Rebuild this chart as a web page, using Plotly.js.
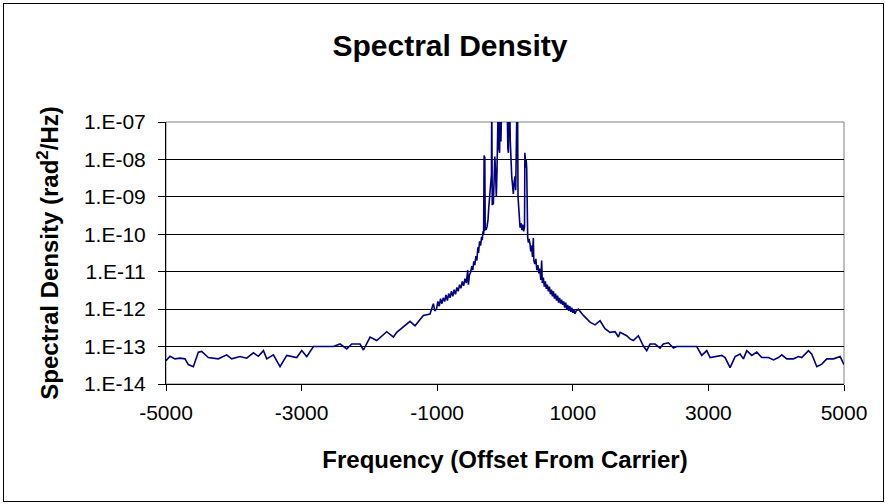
<!DOCTYPE html>
<html>
<head>
<meta charset="utf-8">
<script src="https://cdn.plot.ly/plotly-3.0.1.min.js"></script>
<style>
  html, body { margin: 0; padding: 0; background: #fff; }
  #wrap { position: relative; width: 885px; height: 504px; }
  #chart { position: absolute; left: 0; top: 0; width: 885px; height: 504px; }
  #frame { position: absolute; left: 3px; top: 3px; width: 879px; height: 497px;
           border: 1px solid #000; pointer-events: none; }
</style>
</head>
<body>
<div id="wrap"><div id="chart"></div><div id="frame"></div></div>
<script>
// Frequency offsets from carrier (Hz)
const freq = [
  -5000, -4941, -4867, -4794, -4720, -4671, -4597, -4523, -4474, -4376,
  -4228, -4105, -4031, -3908, -3810, -3711, -3637, -3563, -3514, -3416,
  -3318, -3219, -3072, -2998, -2924, -2826, -2531, -2433, -2334, -2260,
  -2138, -2088, -1990, -1892, -1744, -1646, -1597, -1401, -1327, -1205,
  -1106, -1080, -1057, -1035, -1010, -990, -970, -950, -930, -910,
  -890, -870, -850, -830, -810, -790, -770, -750, -730, -710,
  -690, -670, -650, -630, -610, -590, -570, -550, -540, -525,
  -505, -490, -475, -460, -445, -430, -415, -400, -390, -375,
  -360, -345, -335, -325, -315, -308, -303, -298, -292, -280,
  -265, -250, -240, -232, -222, -210, -200, -195, -188, -180,
  -172, -160, -150, -140, -128, -118, -105, -98, -90, -80,
  -70, -60, -48, -35, -20, -8, 5, 18, 30, 42,
  50, 58, 68, 78, 90, 100, 112, 123, 135, 147,
  158, 168, 178, 185, 192, 200, 212, 222, 235, 250,
  262, 275, 288, 293, 300, 306, 312, 320, 326, 335,
  345, 355, 369, 380, 392, 405, 418, 425, 440, 455,
  470, 485, 500, 515, 528, 541, 550, 565, 580, 595,
  610, 625, 640, 655, 670, 685, 700, 715, 730, 745,
  760, 775, 790, 805, 820, 835, 850, 865, 880, 895,
  910, 925, 940, 955, 970, 985, 1000, 1015, 1030, 1050,
  1082, 1156, 1254, 1328, 1402, 1475, 1549, 1623, 1672, 1697,
  1795, 1844, 1893, 1967, 2040, 2090, 2139, 2213, 2287, 2336,
  2410, 2484, 2533, 2828, 2902, 2976, 3025, 3123, 3197, 3246,
  3320, 3394, 3467, 3517, 3566, 3640, 3713, 3787, 3886, 3960,
  4033, 4082, 4156, 4254, 4328, 4377, 4476, 4525, 4599, 4673,
  4746, 4845, 4943, 5000
];

// Spectral density (rad^2/Hz)
const density = [
  4.2e-14, 5.5e-14, 4.7e-14, 4.9e-14, 4.7e-14, 3.3e-14, 2.9e-14, 7.1e-14, 7.4e-14, 5.1e-14,
  4.7e-14, 6.0e-14, 4.7e-14, 5.4e-14, 4.9e-14, 6.8e-14, 5.5e-14, 7.8e-14, 4.7e-14, 6.0e-14,
  2.9e-14, 5.8e-14, 5.1e-14, 7.8e-14, 5.4e-14, 1.0e-13, 1.0e-13, 1.17e-13, 8.7e-14, 1.17e-13,
  1.17e-13, 8.1e-14, 1.8e-13, 1.45e-13, 2.5e-13, 1.8e-13, 2.4e-13, 4.7e-13, 3.6e-13, 6.8e-13,
  7.4e-13, 1.0e-12, 1.4e-12, 9.0e-13, 1.0e-12, 1.6e-12, 1.2e-12, 1.9e-12, 1.4e-12, 2.0e-12,
  1.6e-12, 2.4e-12, 1.7e-12, 2.6e-12, 2.0e-12, 3.0e-12, 2.2e-12, 3.3e-12, 2.5e-12, 3.8e-12,
  3.0e-12, 4.5e-12, 3.6e-12, 5.5e-12, 4.2e-12, 6.5e-12, 5.0e-12, 1.1e-11, 4.5e-12, 8.0e-12,
  1.0e-11, 1.4e-11, 1.1e-11, 1.9e-11, 1.5e-11, 2.6e-11, 2.0e-11, 4.5e-11, 3.2e-11, 6.5e-11,
  5.0e-11, 8.5e-11, 7.0e-11, 1.2e-10, 1.0e-10, 1.3e-8, 1.2e-10, 1.2e-8, 1.5e-10, 1.3e-10,
  1.6e-10, 2.5e-10, 5.0e-10, 8.0e-10, 1.0e-9, 2.0e-9, 4.0e-9, 5.0e-7, 6.0e-10, 8.0e-10,
  6.3e-10, 3.0e-9, 1.2e-8, 5.0e-9, 1.0e-9, 5.0e-9, 3.0e-8, 5.0e-7, 2.0e-8, 1.5e-8,
  4.0e-7, 3.0e-8, 5.0e-7, 6.0e-7, 5.0e-7, 1.0e-6, 6.0e-7, 8.0e-7, 5.0e-7, 2.0e-8,
  1.5e-8, 3.0e-7, 5.0e-7, 3.0e-8, 6.0e-9, 3.3e-9, 2.0e-9, 1.2e-9, 2.5e-9, 3.5e-9,
  1.5e-9, 2.0e-8, 5.0e-7, 3.0e-7, 1.0e-9, 6.6e-10, 3.0e-10, 1.5e-10, 2.0e-10, 1.3e-10,
  1.8e-10, 1.2e-10, 1.6e-10, 1.5e-8, 1.0e-8, 6.0e-9, 1.0e-8, 6.0e-9, 1.0e-10, 8.0e-11,
  6.0e-11, 7.5e-11, 5.5e-11, 3.5e-11, 5.0e-11, 2.5e-11, 8.0e-11, 2.0e-11, 1.6e-11, 2.2e-11,
  1.1e-11, 1.5e-11, 9.0e-12, 1.2e-11, 6.0e-12, 2.0e-11, 5.0e-12, 7.0e-12, 4.0e-12, 5.5e-12,
  3.5e-12, 4.5e-12, 3.0e-12, 4.0e-12, 2.5e-12, 3.3e-12, 2.2e-12, 3.0e-12, 1.9e-12, 2.6e-12,
  1.7e-12, 2.3e-12, 1.5e-12, 2.0e-12, 1.4e-12, 1.8e-12, 1.3e-12, 1.6e-12, 1.1e-12, 1.5e-12,
  1.0e-12, 1.3e-12, 9.0e-13, 1.2e-12, 8.5e-13, 1.1e-12, 8.0e-13, 1.0e-12, 7.5e-13, 9.0e-13,
  1.0e-12, 6.8e-13, 4.5e-13, 3.8e-13, 4.9e-13, 3.0e-13, 2.4e-13, 2.5e-13, 1.8e-13, 2.4e-13,
  1.95e-13, 1.6e-13, 1.45e-13, 1.95e-13, 1.05e-13, 7.8e-14, 1.17e-13, 1.17e-13, 9.1e-14, 1.17e-13,
  1.26e-13, 9.1e-14, 1.0e-13, 1.0e-13, 5.8e-14, 7.8e-14, 5.1e-14, 5.4e-14, 5.8e-14, 5.1e-14,
  2.75e-14, 5.4e-14, 6.3e-14, 4.7e-14, 7.8e-14, 5.8e-14, 7.1e-14, 5.1e-14, 5.1e-14, 4.4e-14,
  5.1e-14, 6.0e-14, 4.7e-14, 4.7e-14, 5.4e-14, 5.1e-14, 7.8e-14, 6.3e-14, 2.9e-14, 3.4e-14,
  4.7e-14, 4.7e-14, 5.4e-14, 3.3e-14
];

const xTickVals = [-5000, -3000, -1000, 1000, 3000, 5000];
const yTickVals = [1e-14, 1e-13, 1e-12, 1e-11, 1e-10, 1e-9, 1e-8, 1e-7];
const yTickText = ['1.E-14', '1.E-13', '1.E-12', '1.E-11', '1.E-10', '1.E-09', '1.E-08', '1.E-07'];

const FONT = 'Arial, "Liberation Sans", Helvetica, sans-serif';

const trace = {
  x: freq,
  y: density,
  type: 'scatter',
  mode: 'lines',
  line: { color: '#000080', width: 1.6 },
  hoverinfo: 'skip'
};

const layout = {
  width: 885,
  height: 504,
  margin: { l: 166, r: 41, t: 122, b: 120 },
  paper_bgcolor: '#ffffff',
  plot_bgcolor: '#ffffff',
  showlegend: false,
  font: { family: FONT, color: '#000' },
  title: {
    text: 'Spectral Density',
    font: { family: FONT, size: 30, weight: 'bold', color: '#000' },
    xref: 'container', x: 450 / 885, xanchor: 'center',
    yref: 'container', y: 1 - 45 / 504, yanchor: 'middle'
  },
  xaxis: {
    range: [-5000, 5000],
    tickmode: 'array',
    tickvals: xTickVals,
    ticktext: xTickVals.map(String),
    ticks: 'outside', ticklen: 6, tickwidth: 1, tickcolor: '#000',
    showline: true, linecolor: '#000', linewidth: 1,
    showgrid: false, zeroline: false,
    tickfont: { family: FONT, size: 21, color: '#000' },
    ticklabelstandoff: 4,
    title: {
      text: 'Frequency (Offset From Carrier)',
      font: { family: FONT, size: 24, weight: 'bold', color: '#000' },
      standoff: 27
    }
  },
  yaxis: {
    type: 'log',
    range: [-14, -7],
    tickmode: 'array',
    tickvals: yTickVals,
    ticktext: yTickText,
    ticks: 'outside', ticklen: 7, tickwidth: 1, tickcolor: '#000',
    showline: true, linecolor: '#000', linewidth: 1,
    showgrid: true, gridcolor: '#000', gridwidth: 1,
    zeroline: false,
    tickfont: { family: FONT, size: 21, color: '#000' },
    ticklabelstandoff: 8,
    title: {
      text: 'Spectral Density (rad<sup>2</sup>/Hz)',
      font: { family: FONT, size: 24, weight: 'bold', color: '#000' },
      standoff: 18
    }
  },
  shapes: [
    { type: 'rect', xref: 'paper', yref: 'paper', x0: 0, x1: 1, y0: 0, y1: 1,
      line: { color: '#808080', width: 1 }, layer: 'below' }
  ]
};

Plotly.newPlot('chart', [trace], layout, { displayModeBar: false, staticPlot: true });
</script>
</body>
</html>
